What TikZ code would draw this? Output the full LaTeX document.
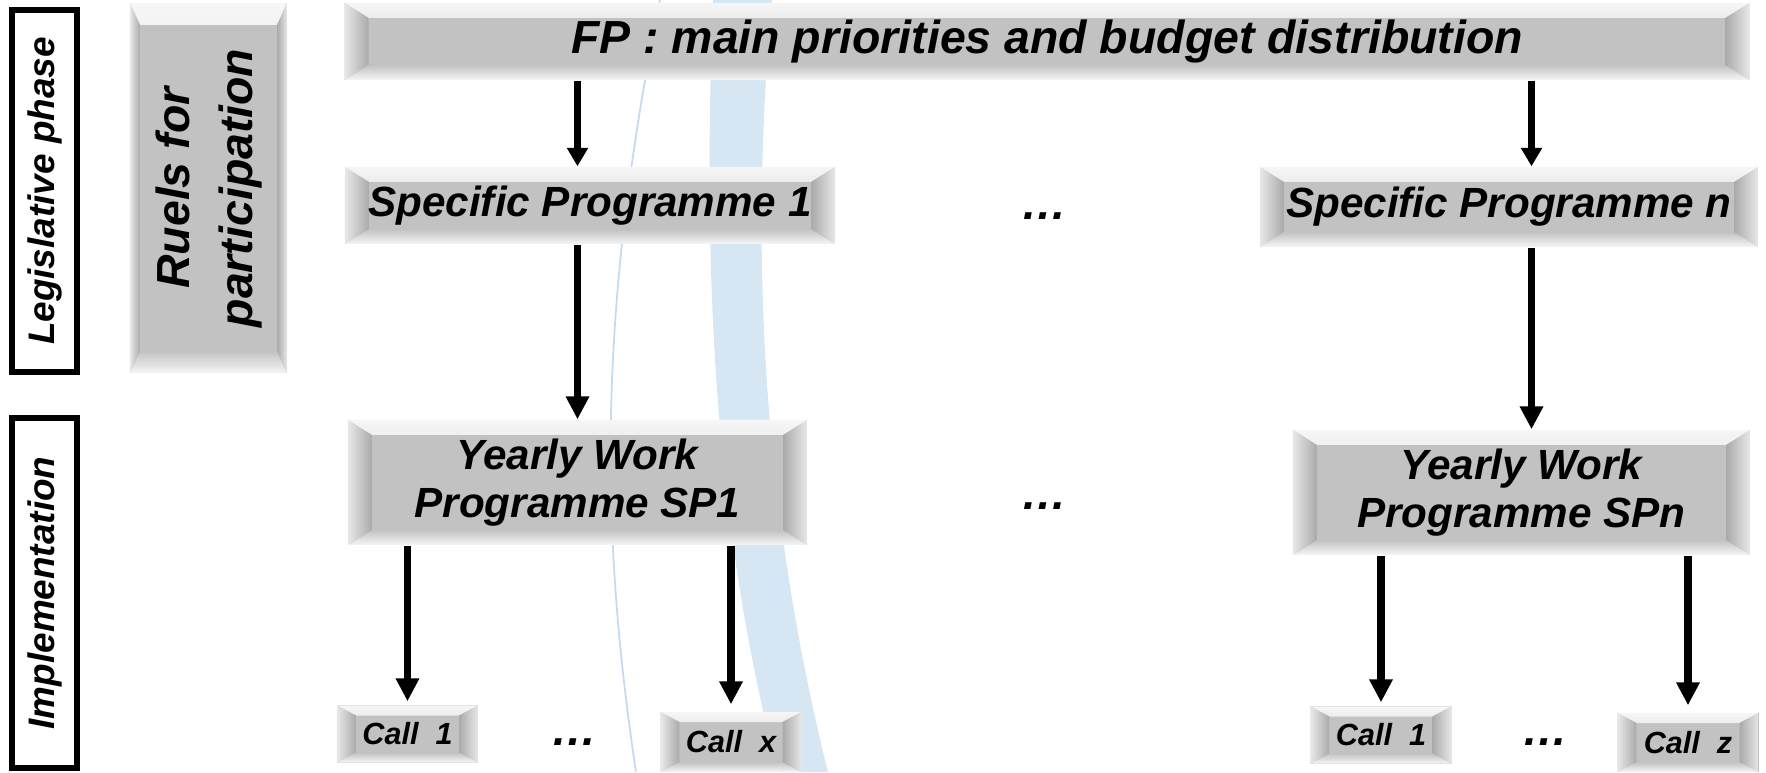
\documentclass[tikz,border=0pt]{standalone}
\usepackage{fontspec}
\usepackage{graphicx}
\setmainfont{Liberation Sans}
\usetikzlibrary{arrows.meta}

\definecolor{boxgray}{RGB}{194,194,194}
\definecolor{bevlight}{RGB}{246,246,246}
\definecolor{bevside}{RGB}{170,170,170}
\definecolor{swoosh}{RGB}{214,230,243}
\definecolor{swline}{RGB}{196,218,240}

\tikzset{
  bevel/.style 2 args={fill=boxgray, inner sep=0pt, path picture={
      %% oben
      \path[top color=bevlight, bottom color=boxgray]
        (path picture bounding box.north west) -- (path picture bounding box.north east)
        -- ([xshift=-#1,yshift=-#2]path picture bounding box.north east)
        -- ([xshift=#1,yshift=-#2]path picture bounding box.north west) -- cycle;
      %% unten
      \path[top color=boxgray, bottom color=bevlight]
        (path picture bounding box.south west) -- (path picture bounding box.south east)
        -- ([xshift=-#1,yshift=#2]path picture bounding box.south east)
        -- ([xshift=#1,yshift=#2]path picture bounding box.south west) -- cycle;
      %% links
      \path[left color=gray!18, right color=bevside]
        (path picture bounding box.north west) -- (path picture bounding box.south west)
        -- ([xshift=#1,yshift=#2]path picture bounding box.south west)
        -- ([xshift=#1,yshift=-#2]path picture bounding box.north west) -- cycle;
      %% rechts
      \path[left color=bevside, right color=gray!18]
        (path picture bounding box.north east) -- (path picture bounding box.south east)
        -- ([xshift=-#1,yshift=#2]path picture bounding box.south east)
        -- ([xshift=-#1,yshift=-#2]path picture bounding box.north east) -- cycle;
  }},
  progbox/.style={bevel={0.24cm}{0.15cm}, minimum height=0.77cm,
    font=\bfseries\itshape\fontsize{12}{13.7}\selectfont, align=center},
  callbox/.style={bevel={0.19cm}{0.10cm}, minimum width=1.41cm, minimum height=0.57cm,
    font=\bfseries\itshape\fontsize{8.7}{10}\selectfont},
  phasebox/.style={draw, line width=1.7pt, rotate=90, minimum width=3.62cm, minimum height=0.65cm,
    inner sep=0pt, font=\bfseries\itshape\fontsize{10.5}{12}\selectfont},
  dotsnode/.style={inner sep=0pt, font=\bfseries\itshape\fontsize{13}{15}\selectfont},
  arrS/.style={line width=1.8pt, -{Triangle[width=5.7pt,length=5.2pt]}},
  arrL/.style={line width=2.1pt, -{Triangle[width=6.3pt,length=6.5pt]}},
}

\begin{document}
\begin{tikzpicture}[x=0.01cm, y=-0.01cm]
\useasboundingbox (0,0) rectangle (1766,772);

	%% Hintergrund
	\fill[swoosh] (713,0) .. controls (703,260) and (712,520) .. (778,772)
		-- (828,772) .. controls (765,520) and (748,260) .. (772,0) -- cycle;
	\draw[swline, line width=0.5pt] (660,0) .. controls (600,300) and (598,520) .. (636,772);

	%% Phasen
	\node[phasebox] (leg) at (44.5,191) {Legislative phase};
	\node[phasebox, minimum width=3.50cm] (impl) at (44.5,593) {Implementation};

	%% Regeln
	\node[bevel={0.10cm}{0.22cm}, minimum width=1.57cm, minimum height=3.70cm,
		font=\bfseries\itshape\fontsize{13.2}{18}\selectfont] (rules) at (208.5,188)
		{\rotatebox{90}{\begin{tabular}{@{}c@{}}Ruels for\\participation\end{tabular}}};
	%%%%%%%%%%%%%%%%

	%% Programme
	\node[progbox, minimum width=14.04cm, font=\bfseries\itshape\fontsize{13.2}{15}\selectfont] (fp) at (1047,41.5)
		{FP : main priorities and budget distribution};
	\node[progbox, minimum width=4.90cm] (sp1) at (590,205.5) {Specific Programme 1};
	\node[progbox, minimum width=4.98cm, minimum height=0.80cm] (spn) at (1509,207) {Specific Programme n};
	\node[dotsnode] (dots1) at (1044,216) {\dots};

	\node[progbox, minimum width=4.59cm, minimum height=1.25cm] (wp1) at (577.5,482.5)
		{Yearly Work\\Programme SP1};
	\node[progbox, minimum width=4.57cm, minimum height=1.25cm] (wpn) at (1521.5,492.5)
		{Yearly Work\\Programme SPn};
	\node[dotsnode] (dots2) at (1044,506) {\dots};

	%% Calls
	\node[callbox] (c1a) at (407.5,734) {Call~~1};
	\node[callbox, minimum height=0.60cm] (cxa) at (731,742) {Call~~x};
	\node[dotsnode] (dots3) at (574,742) {\dots};
	\node[callbox] (c1b) at (1381,735) {Call~~1};
	\node[callbox, minimum height=0.59cm] (czb) at (1688,742.5) {Call~~z};
	\node[dotsnode] (dots4) at (1545,742) {\dots};
	%%%%%%%%%%%%%%%%

	%% Pfeile
	\draw[arrS] (fp.south -| wp1.north) -- (sp1.north -| wp1.north);
	\draw[arrS] ([xshift=1mm]fp.south -| wpn.north) -- ([xshift=1mm]spn.north -| wpn.north);
	\draw[arrL] (sp1.south -| wp1.north) -- (wp1.north);
	\draw[arrL] ([xshift=1mm]spn.south -| wpn.north) -- ([xshift=1mm]wpn.north);
	\draw[arrL] (wp1.south -| c1a.north) -- ([yshift=1pt]c1a.north);
	\draw[arrL] (wp1.south -| cxa.north) -- ([yshift=2pt]cxa.north);
	\draw[arrL] (wpn.south -| c1b.north) -- ([yshift=1pt]c1b.north);
	\draw[arrL] (wpn.south -| czb.north) -- ([yshift=2pt]czb.north);
\end{tikzpicture}
\end{document}
